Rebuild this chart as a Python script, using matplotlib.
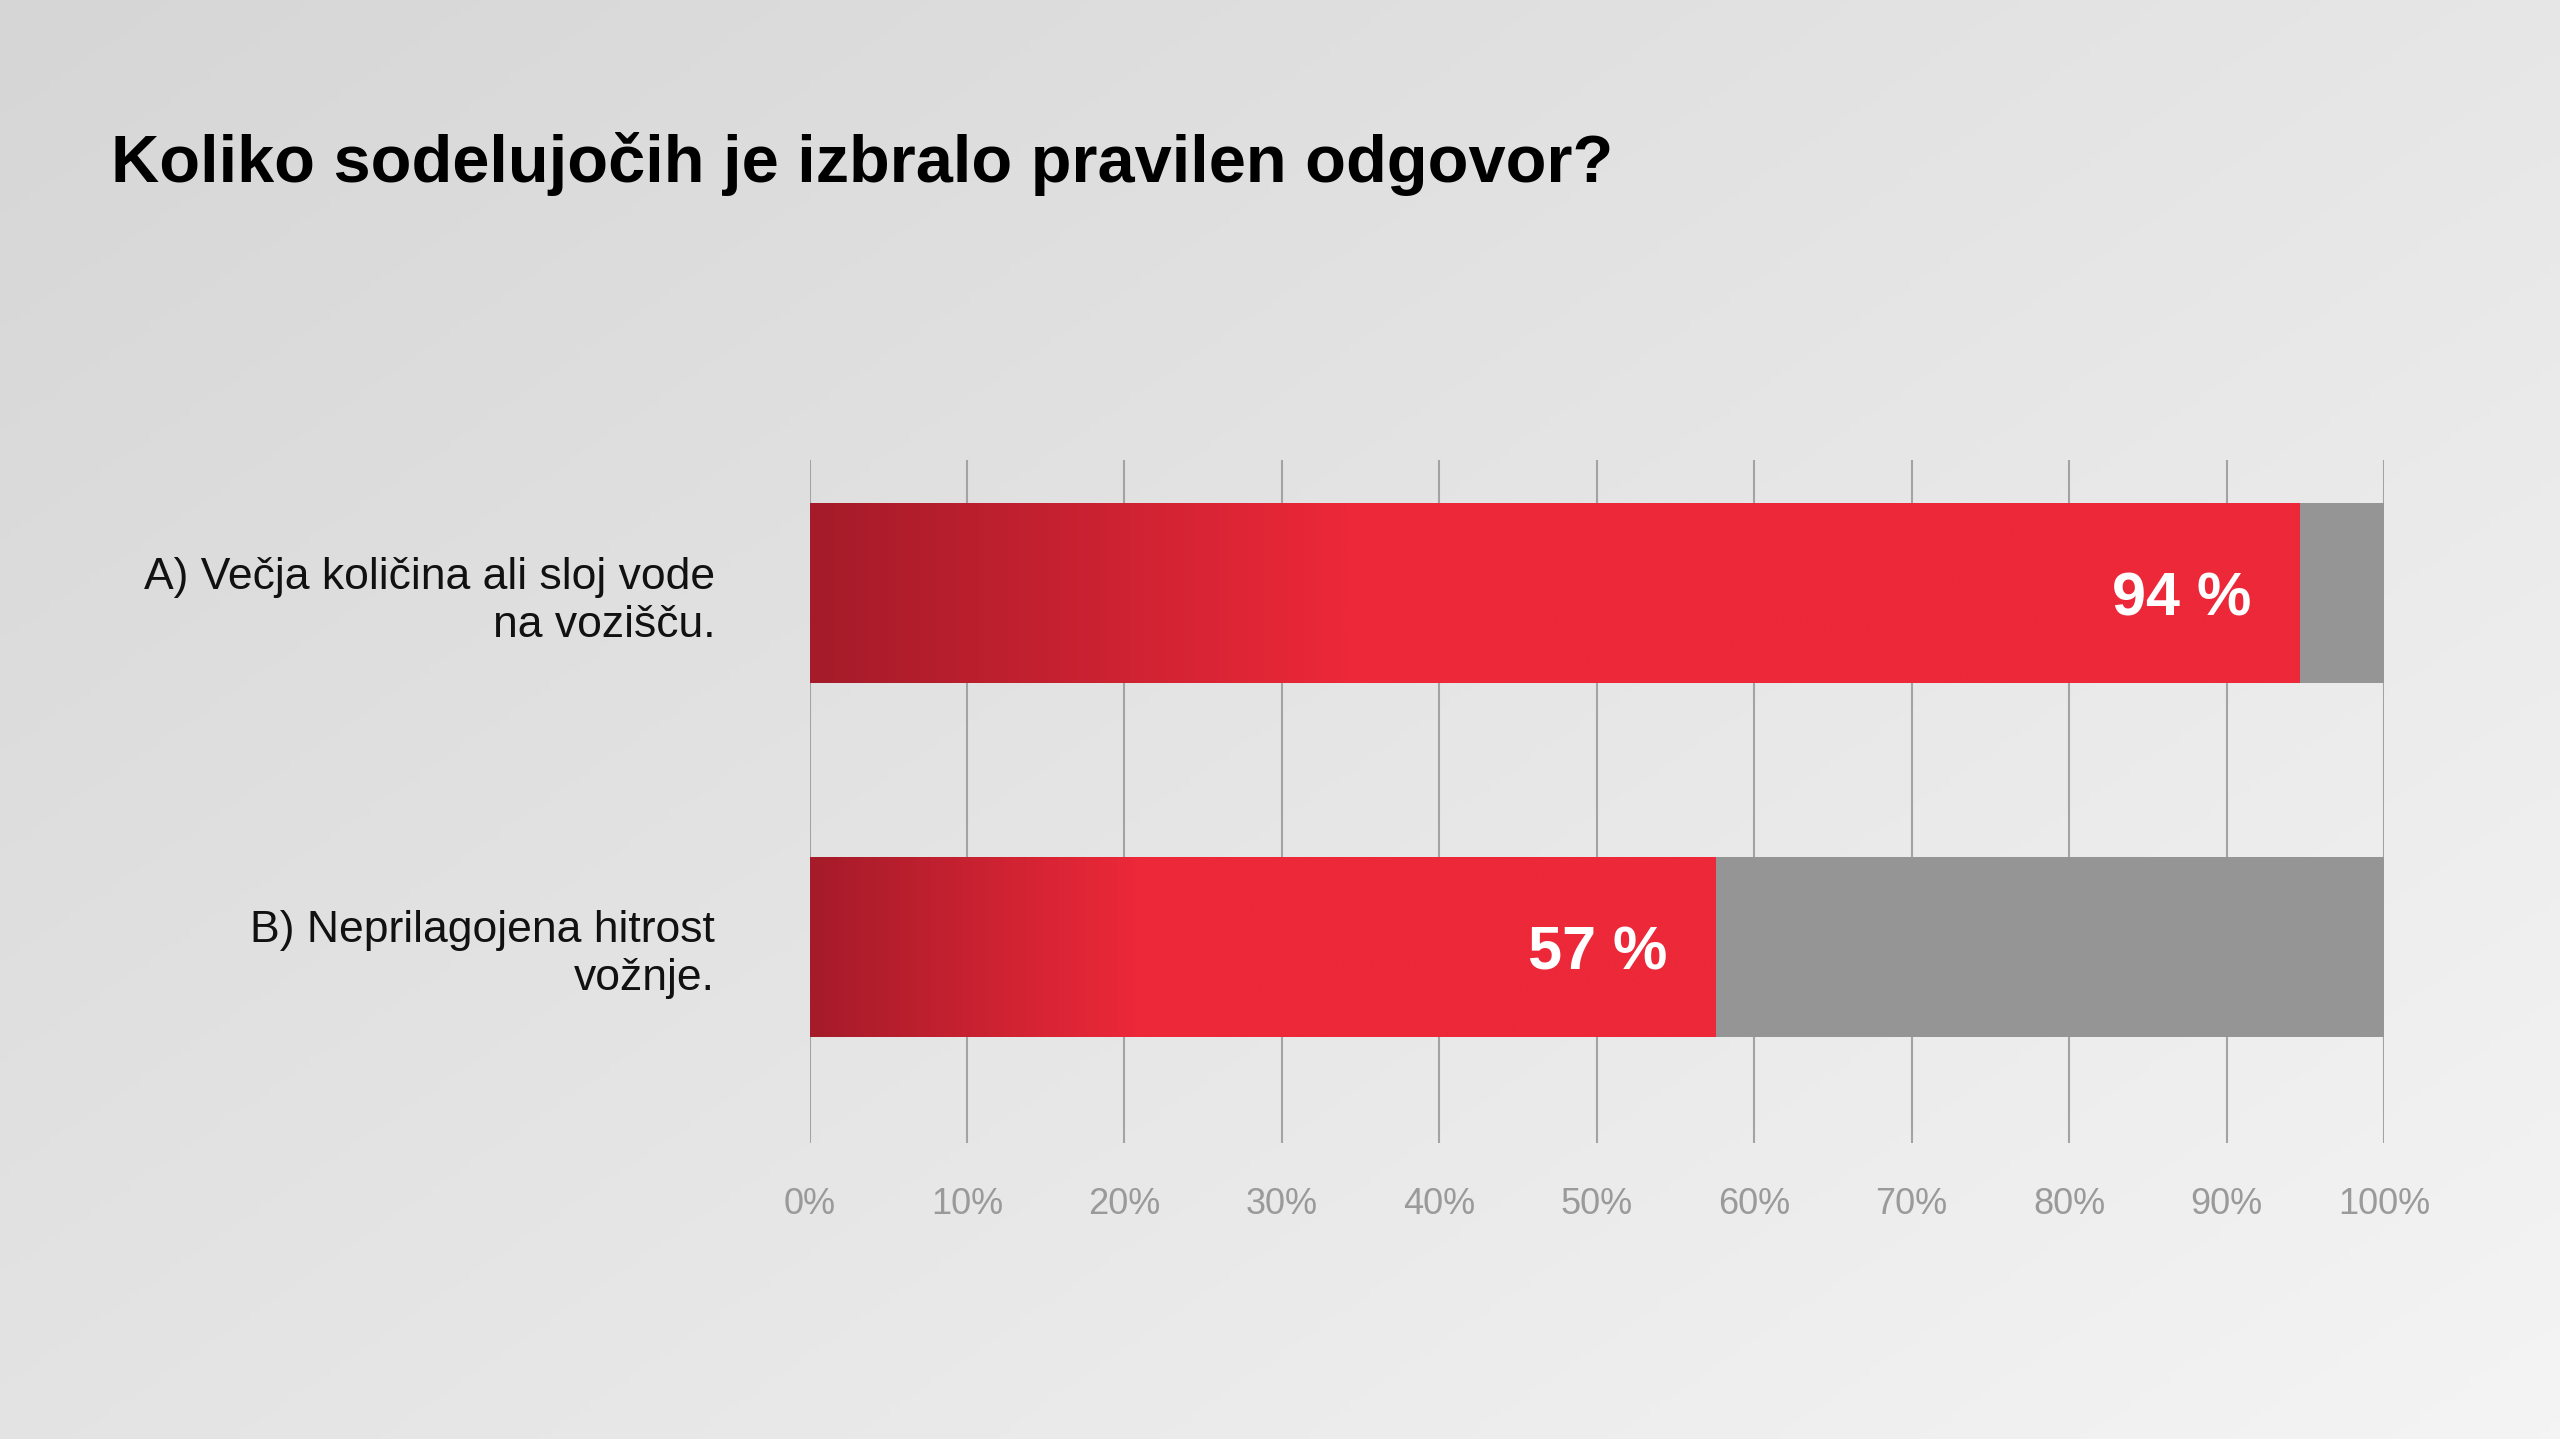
import numpy as np
import matplotlib
matplotlib.use("Agg")
import matplotlib.pyplot as plt
from matplotlib.colors import LinearSegmentedColormap

# --- data ---
title = "Koliko sodelujočih je izbralo pravilen odgovor?"
categories = ["A) Večja količina ali sloj vode\nna vozišču.",
              "B) Neprilagojena hitrost\nvožnje."]
correct_pct = [94.6, 57.5]
value_labels = ["94 %", "57 %"]
xticks = [0, 10, 20, 30, 40, 50, 60, 70, 80, 90, 100]
xtick_labels = [f"{t}%" for t in xticks]

plt.rcParams['font.family'] = ['Liberation Sans', 'DejaVu Sans']

W, H, DPI = 2560, 1439, 100
fig = plt.figure(figsize=(W / DPI, H / DPI), dpi=DPI)

# background: soft diagonal grey gradient
bg = fig.add_axes([0, 0, 1, 1], zorder=-10)
gx, gy = np.meshgrid(np.linspace(0, 1, 256), np.linspace(0, 1, 256))
bg.imshow(0.55 * gx + 0.45 * gy, cmap=LinearSegmentedColormap.from_list(
    "bg", ["#d6d6d6", "#f4f4f4"]), extent=(0, 1, 0, 1), aspect="auto",
    origin="upper")
bg.set_axis_off()

fig.text(111 / W, 1 - 182 / H, title, fontsize=48.1, fontweight="bold",
         color="black", ha="left", va="baseline")

ax = fig.add_axes([809.6 / W, 1 - 1143 / H, (2384 - 809.6) / W, (1143 - 460) / H])
ax.patch.set_alpha(0)

ypos = np.arange(len(categories))
bar_h = 0.51
red = "#ec2839"
# dark red fading into the plain red over the first ~36% of each bar
red_grad = LinearSegmentedColormap.from_list(
    "red", [(0, "#a51b29"), (0.36, red), (1, red)])

ax.barh(ypos, [100] * len(ypos), height=bar_h, color="#959595", zorder=2)
bars = ax.barh(ypos, correct_pct, height=bar_h, color=red, zorder=3)
for bar, y, v, lab in zip(bars, ypos, correct_pct, value_labels):
    grad = np.linspace(0, 1, 512).reshape(1, -1)
    im = ax.imshow(grad, cmap=red_grad, aspect="auto", zorder=4,
                   extent=(0, v, y + bar_h / 2, y - bar_h / 2))
    im.set_clip_path(bar)
    ax.text(v - 3.0, y + 0.02, lab, color="white", fontsize=44,
            fontweight="bold", ha="right", va="center", zorder=5)

ax.set_xlim(0, 100)
ax.set_ylim(len(ypos) - 1 + 0.554, -0.376)
ax.set_xticks(xticks)
ax.set_xticklabels(xtick_labels, fontsize=26, color="#9a9a9a")
ax.set_yticks(ypos)
ax.set_yticklabels(categories, fontsize=32, color="#111111", ha="right",
                   multialignment="right", linespacing=1.22)
ax.tick_params(axis="x", length=0, pad=32)
ax.tick_params(axis="y", length=0, pad=68)
ax.grid(axis="x", color="#a3a3a3", linewidth=1.5, zorder=1)
ax.set_axisbelow(True)
for s in ax.spines.values():
    s.set_visible(False)

fig.savefig("out.png", dpi=DPI)
